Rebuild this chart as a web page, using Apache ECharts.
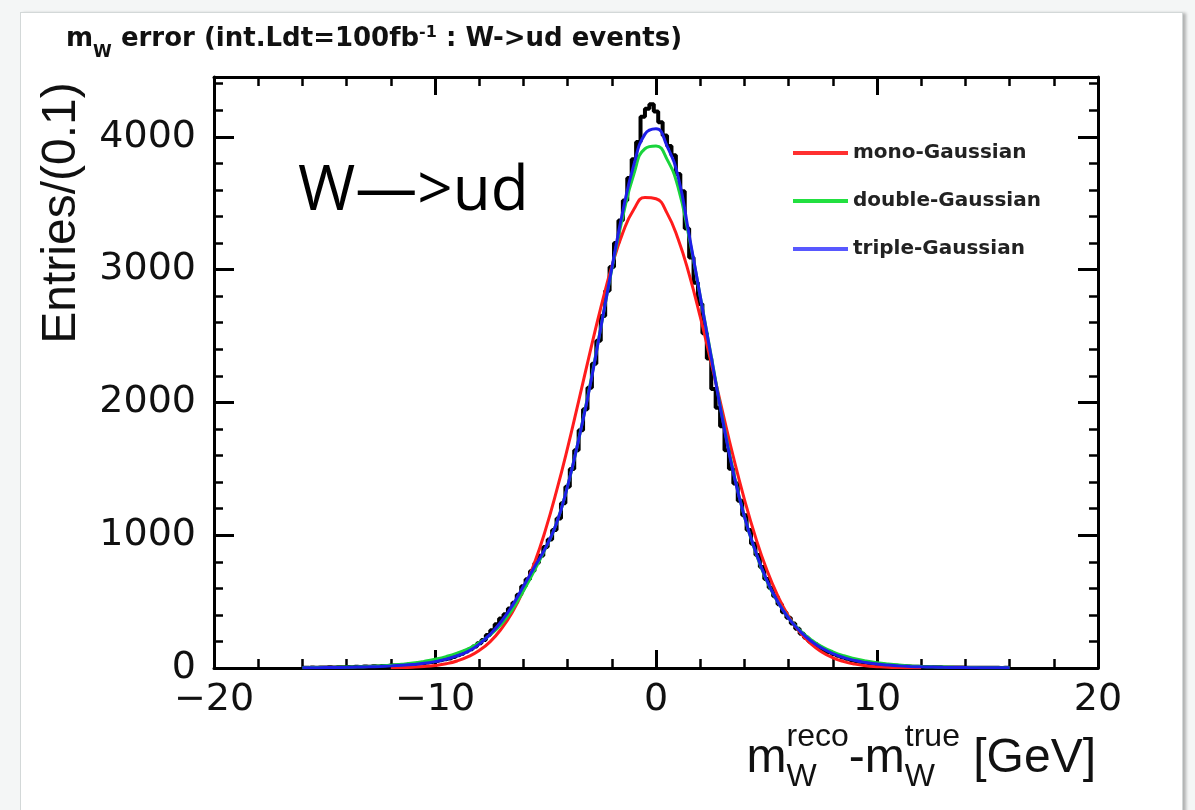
<!DOCTYPE html>
<html><head><meta charset="utf-8">
<script src="https://cdn.jsdelivr.net/npm/echarts@6/dist/echarts.min.js"></script>
<style>
html,body{margin:0;padding:0;background:#f4f6f6;width:1195px;height:810px;overflow:hidden;}
#panel{position:absolute;left:20px;top:12px;width:1161px;height:830px;background:#fff;border:1px solid #d3d8d8;box-shadow:3px 1px 3px rgba(0,0,0,0.28);}
#chart{position:absolute;left:0;top:0;width:1195px;height:810px;}
</style></head><body>
<div id="panel"></div><div id="chart"></div>
<script>
// ---- data ----
const histStart = -16, histStep = 0.2;
const histValues = [
  2,1,3,2,4,3,5,4,6,5,7,6,9,8,11,10,13,12,16,15,19,18,23,22,27,29,33,35,41,45,
  52,58,66,71,83,96,108,124,141,162,187,210,248,285,330,372,405,448,492,551,
  615,668,731,790,846,912,968,1040,1125,1240,1365,1498,1640,1790,1948,2110,2290,2465,2650,2840,
  3020,3200,3370,3520,3690,3830,3960,4150,4210,4245,
  4190,4110,4010,3930,3860,3720,3590,3310,3090,2900,2740,2520,2330,2100,1960,1820,1640,1500,1390,1260,
  1150,1040,935,850,760,670,605,540,480,420,378,335,295,258,228,200,178,157,135,118,
  104,92,80,70,61,53,47,41,37,32,
  28,25,22,19,17,15,13,12,10,9,8,7,6,6,5,4,4,3,3,3,2,2,2,1,2,1,1,1,0,1,0
];
const curveStart = -16, curveStep = 0.5;
const tripleGauss = [
  1,2,3,4,5,7,9,12,16,21,27,35,48,66,92,125,180,255,350,470,615,760,905,1090,1370,1720,2110,2560,3010,3440,3790,4020,
  4060,3930,3700,3260,2800,2340,1880,1470,1140,880,665,500,375,280,205,150,108,78,56,41,30,22,16,12,9,7,5,4,3,2,2,1,1
];
const doubleGauss = [
  2,3,4,5,7,9,12,16,21,28,37,50,66,86,112,145,190,250,330,440,580,735,900,1090,1370,1720,2120,2560,3000,3400,3720,3910,
  3930,3830,3620,3240,2800,2350,1890,1480,1140,875,660,500,378,285,215,162,122,92,70,53,40,30,22,16,12,9,7,5,4,3,2,2,1
];
const monoStart = -12;
const monoGauss = [
  2,3,6,11,19,32,53,85,132,199,294,420,586,790,1040,1333,1658,2010,2367,2711,3023,3278,3454,3543,
  3533,3425,3230,2964,2645,2297,1939,1589,1270,987,745,547,389,271,183,121,77,48,29,17,10,5,3,2,1
];
const seriesNames = ['mono-Gaussian', 'double-Gaussian', 'triple-Gaussian'];
const xRange = [-20, 20], xInterval = 10;
const yRange = [0, 4450], yInterval = 1000, yMinorInterval = 200;

function pairs(start, step, vals) {
  return vals.map((v, i) => [+(start + i * step).toFixed(2), v]);
}

// ---- text layout helpers ----
const mctx = document.createElement('canvas').getContext('2d');
function tw(text, font) { mctx.font = font; return mctx.measureText(text).width; }
function txt(x, y, text, font, align, extra) {
  return Object.assign({
    type: 'text', x: x, y: y, silent: true,
    style: { text: text, font: font, fill: '#111', textAlign: align || 'left', align: align || 'left',
             textVerticalAlign: 'middle', verticalAlign: 'middle' }
  }, extra || {});
}
// pieces: {t, font, size, dy} placed on a baseline; stacked pieces: {stack:[sup,sub]}
function layoutLine(pieces, x0, baseline, rightAlign) {
  const widths = pieces.map(p => p.stack ? Math.max(...p.stack.map(q => tw(q.t, q.font))) : tw(p.t, p.font));
  const total = widths.reduce((a, b) => a + b, 0);
  let x = rightAlign ? x0 - total : x0;
  const els = [];
  pieces.forEach((p, i) => {
    const list = p.stack ? p.stack : [p];
    list.forEach(q => {
      const b = baseline + (q.dy || 0);
      els.push(txt(x, b - 0.3 * q.size, q.t, q.font, 'left'));
    });
    x += widths[i];
  });
  return els;
}

const tF = s => `bold ${s}px "DejaVu Sans"`;
const titleEls = layoutLine([
  { t: 'm', font: tF(26), size: 26 },
  { t: 'W', font: tF(17), size: 17, dy: 11 },
  { t: ' error (int.Ldt=100fb', font: tF(26), size: 26 },
  { t: '-1', font: tF(16), size: 16, dy: -9 },
  { t: ' : W->ud events)', font: tF(26), size: 26 }
], 66, 47, false);

const lF = s => `${s}px "Liberation Sans"`;
const xTitleEls = layoutLine([
  { t: 'm', font: lF(48), size: 48 },
  { stack: [{ t: 'reco', font: lF(32), size: 32, dy: -26 }, { t: 'W', font: lF(32), size: 32, dy: 14 }] },
  { t: '-m', font: lF(48), size: 48 },
  { stack: [{ t: 'true', font: lF(32), size: 32, dy: -26 }, { t: 'W', font: lF(32), size: 32, dy: 14 }] },
  { t: ' [GeV]', font: lF(48), size: 48 }
], 1096, 773, true);

const yTitle = txt(62, 213, 'Entries/(0.1)', lF(48), 'center', { rotation: Math.PI / 2 });
const annot = txt(298, 192, 'W\u2014>ud', '62px "Open Sans"', 'left');
annot.style.fill = '#000';

// ---- axes ----
const black = '#000';
function xAxisDef(pos, labels) {
  return {
    type: 'value', position: pos, min: xRange[0], max: xRange[1], interval: xInterval,
    axisLine: { show: true, onZero: false, lineStyle: { color: black, width: 3 } },
    axisTick: { show: true, inside: true, length: 18, lineStyle: { color: black, width: 3 } },
    minorTick: { show: true, splitNumber: 5, length: 9, lineStyle: { color: black, width: 2.5 } },
    splitLine: { show: false }, minorSplitLine: { show: false },
    axisLabel: labels ? {
      show: true, margin: 13, color: '#111', fontFamily: 'DejaVu Sans', fontSize: 38,
      formatter: v => String(v).replace('-', '\u2212')
    } : { show: false }
  };
}
function yAxisDef(pos, major, labels) {
  return {
    type: 'value', position: pos, min: yRange[0], max: yRange[1],
    interval: major ? yInterval : yMinorInterval,
    axisLine: { show: major, onZero: false, lineStyle: { color: black, width: 3 } },
    axisTick: { show: true, inside: true, length: major ? 20 : 9, lineStyle: { color: black, width: major ? 3 : 2.5 } },
    splitLine: { show: false },
    axisLabel: labels ? {
      show: true, margin: 18, color: '#111', fontFamily: 'DejaVu Sans', fontSize: 38,
      showMaxLabel: false,
      formatter: v => (v % yInterval === 0 ? String(v) : '')
    } : { show: false }
  };
}

const chart = echarts.init(document.getElementById('chart'), null, { renderer: 'canvas' });
chart.setOption({
  animation: false,
  backgroundColor: 'transparent',
  grid: { left: 214, right: 97, top: 77, bottom: 142, containLabel: false },
  xAxis: [xAxisDef('bottom', true), xAxisDef('top', false)],
  yAxis: [yAxisDef('left', true, true), yAxisDef('left', false, false),
          yAxisDef('right', true, false), yAxisDef('right', false, false)],
  legend: {
    orient: 'vertical', left: 788, top: 138, itemWidth: 55, itemHeight: 4, itemGap: 28,
    icon: 'rect',
    textStyle: { fontFamily: 'DejaVu Sans', fontWeight: 'bold', fontSize: 20, color: '#222' },
    data: [
      { name: seriesNames[0], itemStyle: { color: '#ff3030' } },
      { name: seriesNames[1], itemStyle: { color: '#22e040' } },
      { name: seriesNames[2], itemStyle: { color: '#5858ff' } }
    ]
  },
  graphic: { elements: [...titleEls, ...xTitleEls, yTitle, annot] },
  series: [
    {
      name: 'data', type: 'line', step: 'middle', symbol: 'none', z: 3,
      data: pairs(histStart, histStep, histValues),
      lineStyle: { color: '#000', width: 4 }, itemStyle: { color: '#000' }
    },
    {
      name: seriesNames[0], type: 'line', smooth: true, symbol: 'none', z: 4,
      data: pairs(monoStart, curveStep, monoGauss),
      lineStyle: { color: '#ff1c1c', width: 3 }, itemStyle: { color: '#ff1c1c' }
    },
    {
      name: seriesNames[1], type: 'line', smooth: true, symbol: 'none', z: 5,
      data: pairs(curveStart, curveStep, doubleGauss),
      lineStyle: { color: '#19d43c', width: 3 }, itemStyle: { color: '#19d43c' }
    },
    {
      name: seriesNames[2], type: 'line', smooth: true, symbol: 'none', z: 6,
      data: pairs(curveStart, curveStep, tripleGauss),
      lineStyle: { color: '#1e1ee8', width: 3 }, itemStyle: { color: '#1e1ee8' }
    }
  ]
});
</script></body></html>
